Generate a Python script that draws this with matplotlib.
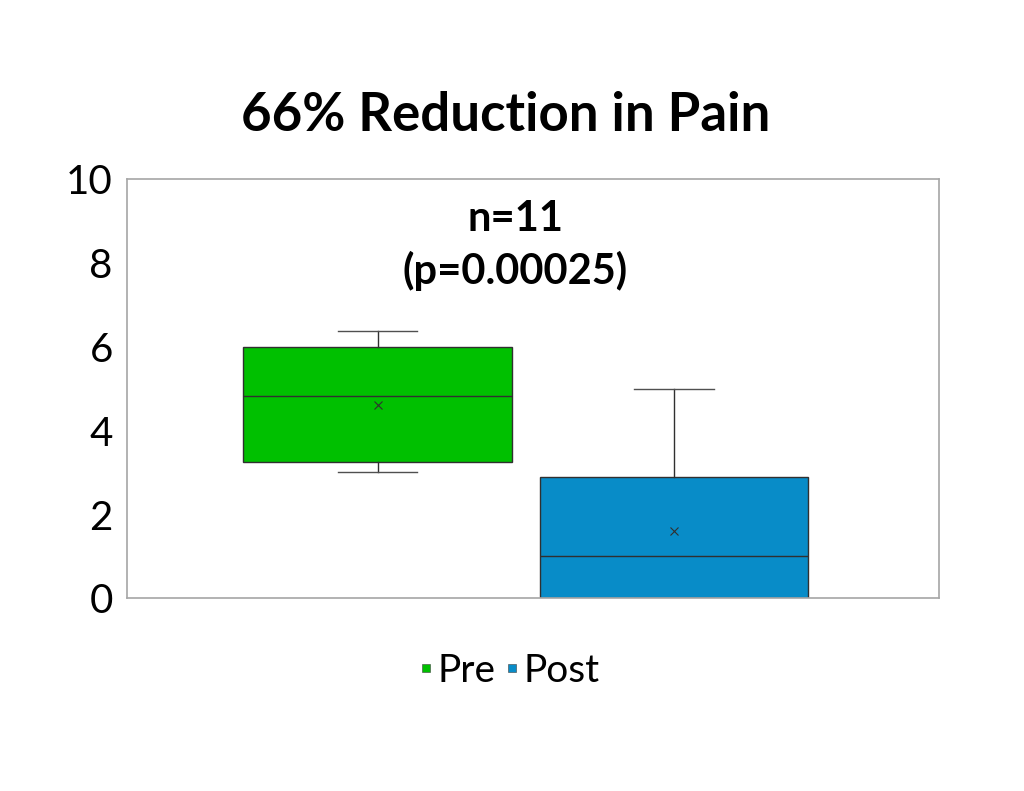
import matplotlib
matplotlib.use("Agg")
import matplotlib.pyplot as plt
from matplotlib.lines import Line2D

plt.rcParams['font.family'] = ['Lato', 'DejaVu Sans']

# box statistics (pain score)
groups = ["Pre", "Post"]
whisker_lo = [3.01, 0.0]
q1 = [3.26, 0.0]
median = [4.83, 1.02]
q3 = [6.00, 2.89]
whisker_hi = [6.37, 5.00]
means = [4.61, 1.60]
colors = ["#00C000", "#088CC8"]

title = "66% Reduction in Pain"
note = "n=11\n(p=0.00025)"

stats = []
for i, g in enumerate(groups):
    stats.append(dict(label=g, whislo=whisker_lo[i], q1=q1[i], med=median[i],
                      q3=q3[i], whishi=whisker_hi[i], mean=means[i], fliers=[]))

fig = plt.figure(figsize=(10.24, 7.91), dpi=100)
ax = fig.add_axes([0.1237, 0.2434, 0.7936, 0.5303])

bp = ax.bxp(stats, positions=[1, 2], widths=0.906, patch_artist=True,
            showmeans=True, showfliers=False, capwidths=0.27,
            boxprops=dict(edgecolor="#303030", linewidth=1.0),
            medianprops=dict(color="#303030", linewidth=1.0),
            whiskerprops=dict(color="#303030", linewidth=1.0),
            capprops=dict(color="#505050", linewidth=1.0),
            meanprops=dict(marker="x", markeredgecolor="#303030", markersize=6,
                           markeredgewidth=0.8))
for patch, c in zip(bp['boxes'], colors):
    patch.set_facecolor(c)

ax.set_xlim(0.153, 2.897)
ax.set_ylim(0, 10)
ax.set_yticks([0, 2, 4, 6, 8, 10])
ax.set_xticks([])
ax.tick_params(axis='y', length=0, pad=10, labelsize=29)
for s in ax.spines.values():
    s.set_color("#A6A6A6")
    s.set_linewidth(1.2)

fig.text(0.494, 0.854, title, ha="center", va="center", fontsize=38, fontweight="bold")
ax.text(0.478, 0.841, note, transform=ax.transAxes, ha="center", va="center",
        fontsize=30, fontweight="bold", linespacing=1.4)

handles = [Line2D([], [], linestyle="none", marker="s", markersize=6,
                  markerfacecolor=c, markeredgecolor="#404040", markeredgewidth=0.4)
           for c in colors]
fig.legend(handles, groups, loc="center", bbox_to_anchor=(0.497, 0.152), ncol=2,
           frameon=False, fontsize=28, handlelength=0.4, handletextpad=0.1,
           columnspacing=0.2)

fig.savefig("out.png", dpi=100, facecolor="white")
